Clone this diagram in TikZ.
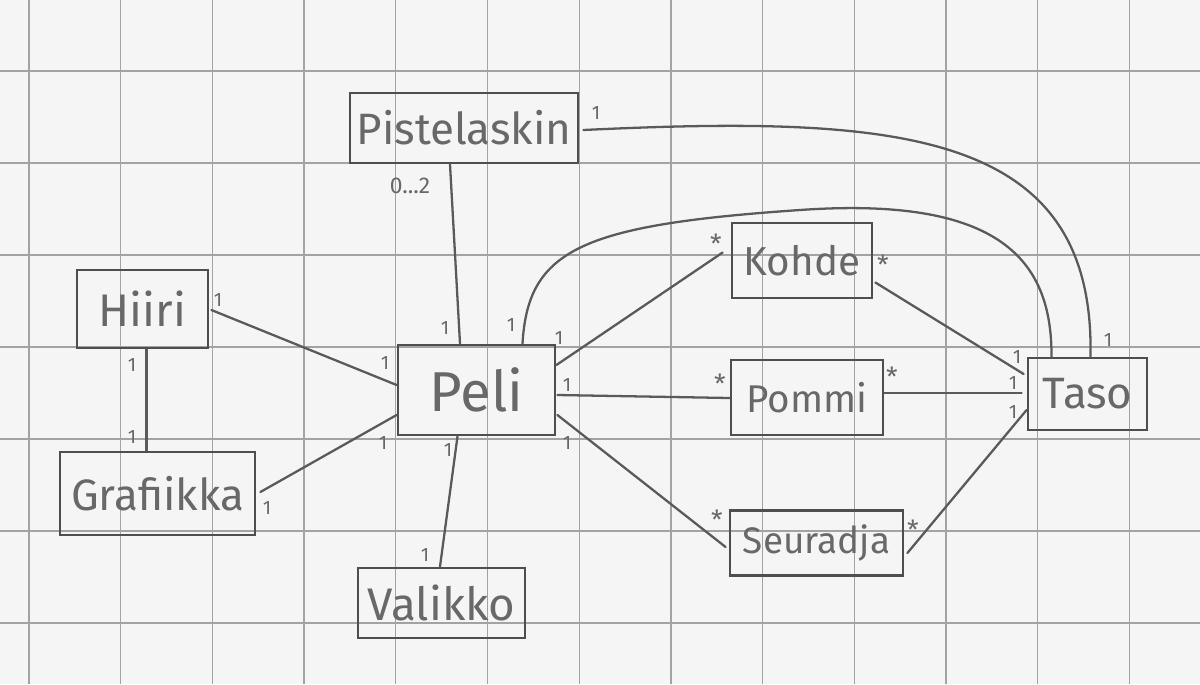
\documentclass[tikz,border=0pt]{standalone}
\usepackage{fontspec}
\setmainfont{Fira Sans}
\usetikzlibrary{calc}
\definecolor{paper}{HTML}{F5F5F5}
\definecolor{gridcol}{HTML}{A3A3A3}
\definecolor{boxcol}{HTML}{4E4E4E}
\definecolor{linecol}{HTML}{5A5A5A}
\definecolor{txtcol}{HTML}{686868}
\begin{document}
\begin{tikzpicture}[x=0.02cm,y=-0.02cm,
  cls/.style={draw=boxcol, line width=1.6pt, inner sep=0pt, text=txtcol},
  fs/.style={font=\fontsize{#1}{#1}\selectfont},
  conn/.style={draw=linecol, line width=1.3pt, line cap=round},
  lbl/.style={text=txtcol, inner sep=0pt, font=\fontsize{11}{11}\selectfont},
  star/.style={text=txtcol, inner sep=0pt, font=\fontsize{15}{15}\selectfont},
  gridline/.style={draw=gridcol, line width=0.7pt}]
\fill[paper] (0,0) rectangle (1200,684);
\useasboundingbox (0,0) rectangle (1200,684);
% grid paper
\foreach \gx in {29,120.7,212.4,304.1,395.8,487.5,579.2,670.9,762.6,854.3,946,1037.7,1129.4}
  \draw[gridline] (\gx,0) -- (\gx,684);
\foreach \gy in {71,163,255,347,439,531,623}
  \draw[gridline] (0,\gy) -- (1200,\gy);

% classes
\node[cls, fs=25, minimum width=4.56cm, minimum height=1.40cm] (pist) at (464,128) {Pistelaskin};
\node[cls, fs=26, minimum width=2.62cm, minimum height=1.56cm] (hiiri) at (142.5,309) {Hiiri};
\node[cls, fs=25, minimum width=3.90cm, minimum height=1.66cm] (graf) at (157.5,493.5) {Grafiikka};
\node[cls, fs=32, minimum width=3.14cm, minimum height=1.80cm] (peli) at (476.5,390) {Peli};
\node[cls, fs=23, minimum width=2.80cm, minimum height=1.50cm] (kohde) at (802,260.5) {Kohde};
\node[cls, fs=22, minimum width=3.04cm, minimum height=1.50cm] (pommi) at (807,397.5) {Pommi};
\node[cls, fs=21, minimum width=3.46cm, minimum height=1.30cm] (seur) at (816.5,543) {Seuradja};
\node[cls, fs=25, minimum width=2.38cm, minimum height=1.44cm] (taso) at (1087.5,394) {Taso};
\node[cls, fs=26, minimum width=3.34cm, minimum height=1.40cm] (vali) at (441.5,603) {Valikko};

% connectors
\draw[conn] ($(pist.south)+(-14,0)$) -- ($(peli.north)+(-16.5,0)$);
\draw[conn] ($(pist.east)+(4,2)$) .. controls (900,115) and (1095,130) .. ($(taso.north)+(3,0)$);
\coordinate (ptmid) at (800,210);
\draw[conn] ($(peli.north)+(46,0)$) .. controls (528,250) and (580,225) .. (ptmid)
  .. controls (1000,196) and (1052,260) .. ($(taso.north)+(-36,0)$);
\draw[conn] ($(hiiri.east)+(2,1)$) -- ($(peli.west)+(0,-5)$);
\draw[conn] ($(graf.east)+(4,-1.5)$) -- ($(peli.west)+(0,25)$);
\draw[conn] ($(hiiri.south)+(4,0)$) -- ($(graf.north)+(-11,0)$);
\draw[conn] ($(peli.east)+(0,-25)$) -- ($(kohde.west)+(-8,-8)$);
\draw[conn] ($(peli.east)+(1,5)$) -- ($(pommi.west)+(0,0.5)$);
\draw[conn] ($(peli.east)+(1,25)$) -- ($(seur.west)+(-3,4)$);
\draw[conn] ($(peli.south)+(-19,0)$) -- ($(vali.north)+(-1.5,0)$);
\draw[conn] ($(kohde.east)+(2,22)$) -- ($(taso.west)+(-3,-20)$);
\draw[conn] ($(pommi.east)+(0,-4.5)$) -- ($(taso.west)+(-5,-1)$);
\draw[conn] ($(seur.east)+(3,10)$) -- ($(taso.west)+(0,16)$);

% multiplicities
\node[lbl, font=\fontsize{13}{13}\selectfont] (m1) at (410,186) {0...2};
\node[lbl] (m2) at (445,328) {1};
\node[lbl] (m3) at (596,113) {1};
\node[lbl] (m4) at (1108,340) {1};
\node[lbl] (m5) at (511,325) {1};
\node[lbl] (m6) at (559,338) {1};
\node[star] (m7) at (716,244) {*};
\node[star] (m8) at (883,265) {*};
\node[lbl] (m9) at (1017,357) {1};
\node[lbl] (m10) at (567,385) {1};
\node[star] (m11) at (720,384) {*};
\node[star] (m12) at (892,377) {*};
\node[lbl] (m13) at (1013,383) {1};
\node[lbl] (m14) at (1013,412) {1};
\node[lbl] (m15) at (567,443) {1};
\node[star] (m16) at (717,520) {*};
\node[star] (m17) at (913,530) {*};
\node[lbl] (m18) at (448,450) {1};
\node[lbl] (m19) at (425,555) {1};
\node[lbl] (m20) at (383,443) {1};
\node[lbl] (m21) at (385,363) {1};
\node[lbl] (m22) at (218,300) {1};
\node[lbl] (m23) at (132,365) {1};
\node[lbl] (m24) at (132,437) {1};
\node[lbl] (m25) at (267,508) {1};
\end{tikzpicture}
\end{document}
